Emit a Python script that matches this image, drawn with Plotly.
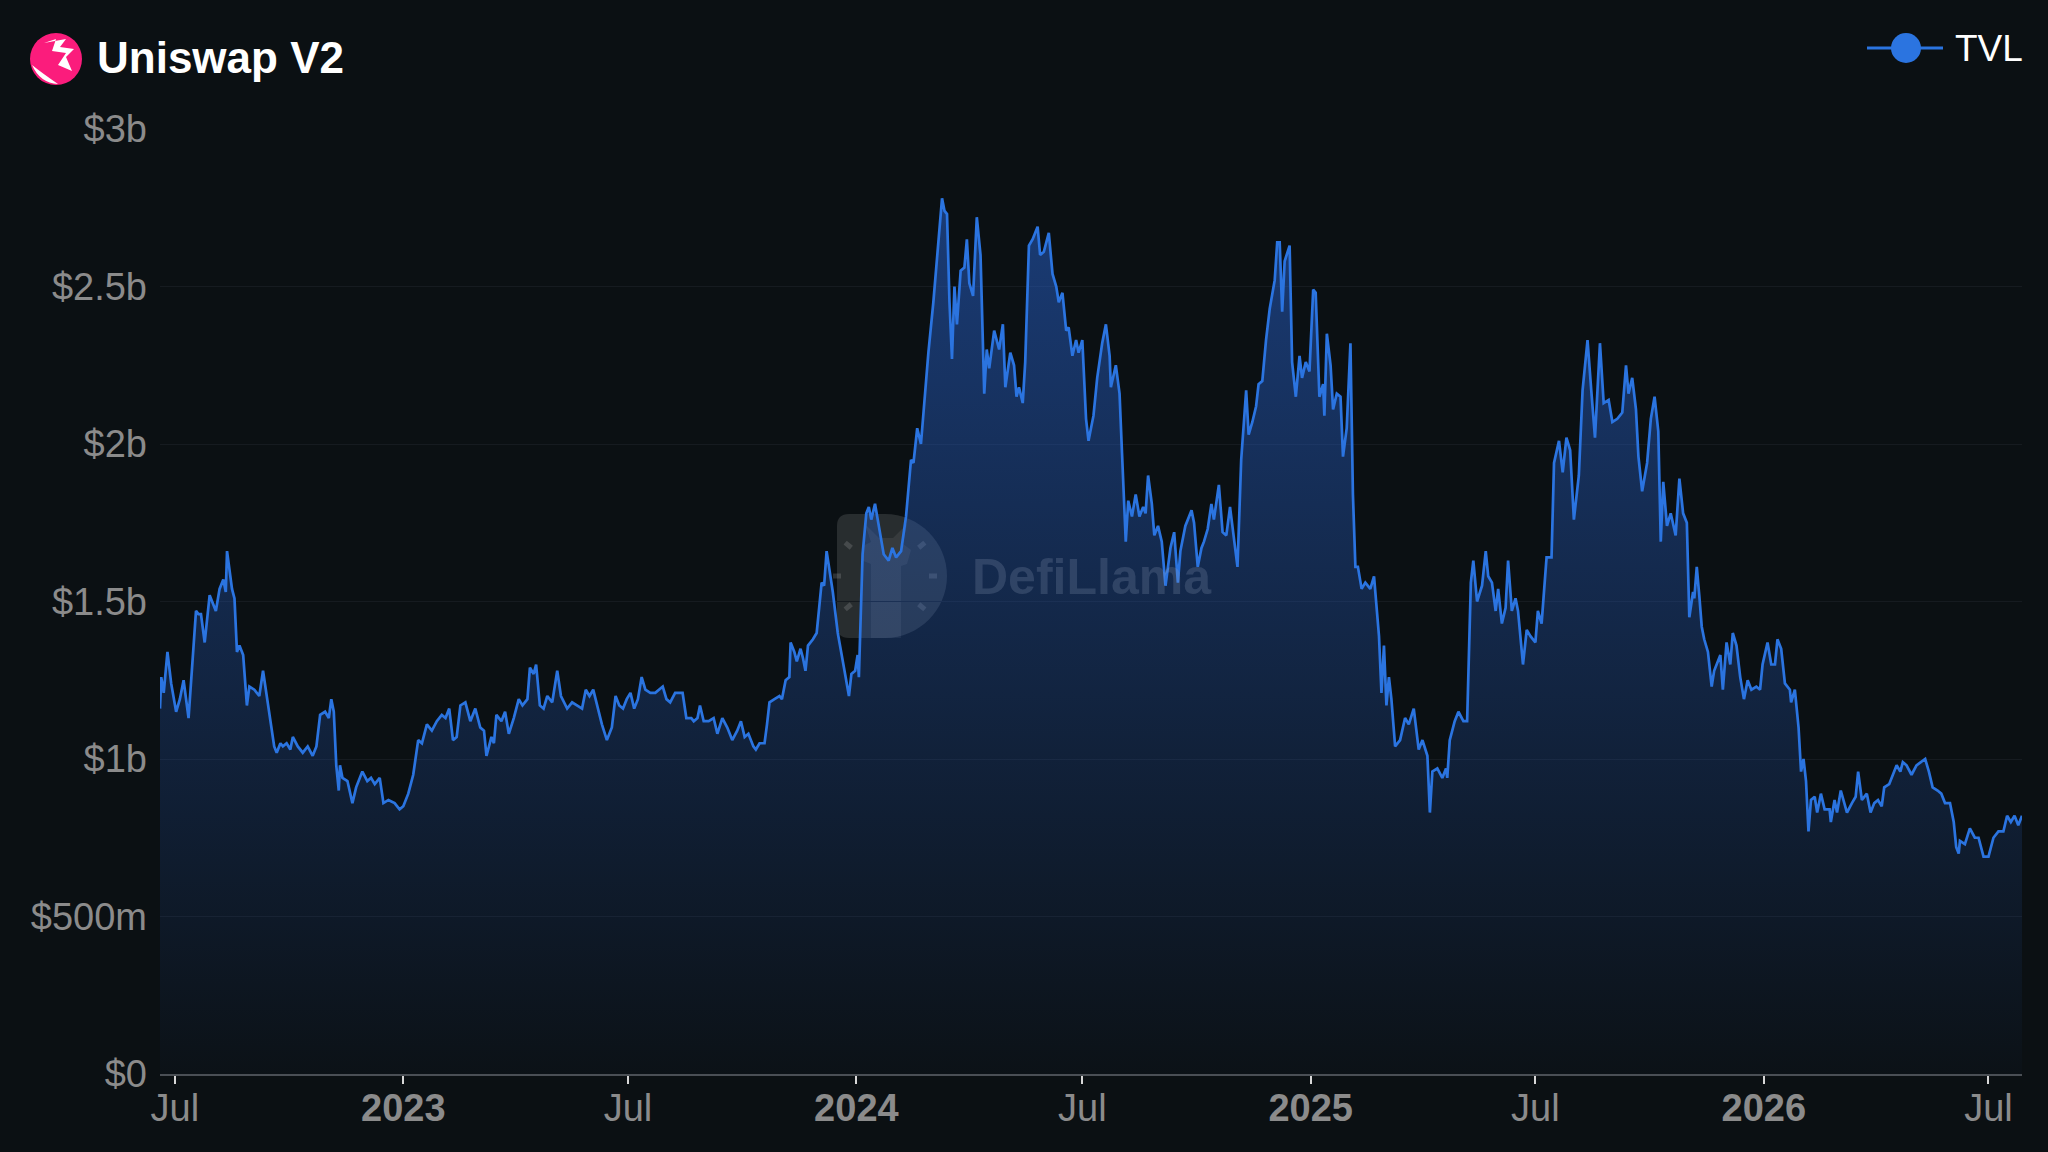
import math
import pandas as pd
import plotly.graph_objects as go

# TVL readings, days counted from 2022-07-01, values in $b
days = [
    -12, -11, -9, -6, -3, 1, 4, 7, 11, 15, 17, 19, 21, 24, 28, 33, 36, 39, 41, 42,
    46, 48, 50, 52, 55, 58, 60, 64, 68, 71, 75, 78, 80, 82, 85, 87, 90, 93, 95, 99,
    103, 107, 111, 114, 117, 121, 124, 126, 128, 130, 132, 133, 135, 139, 143, 146, 151, 155, 158, 161,
    165, 168, 172, 177, 181, 184, 188, 192, 196, 199, 203, 207, 211, 215, 218, 221, 224, 227, 230, 234,
    238, 242, 246, 249, 251, 255, 257, 259, 263, 266, 269, 273, 277, 280, 284, 286, 289, 291, 294, 297,
    300, 304, 308, 311, 316, 320, 324, 328, 331, 334, 337, 340, 344, 348, 352, 355, 358, 361, 364, 367,
    370, 373, 376, 379, 383, 387, 390, 393, 396, 399, 403, 409, 412, 416, 418, 421, 423, 426, 430, 434,
    437, 441, 445, 449, 453, 456, 459, 462, 466, 468, 471, 475, 477, 479, 483, 487, 489, 492, 495, 496,
    499, 501, 504, 506, 508, 510, 514, 517, 519, 521, 523, 525, 530, 534, 539, 543, 545, 548, 550, 551,
    554, 557, 559, 561, 564, 567, 571, 575, 578, 581, 585, 589, 591, 593, 595, 598, 601, 605, 607, 611,
    614, 616, 618, 620, 622, 624, 626, 628, 630, 633, 636, 638, 640, 643, 646, 649, 652, 654, 656, 660,
    664, 667, 669, 673, 676, 678, 680, 683, 685, 688, 691, 695, 697, 700, 704, 707, 710, 712, 715, 718,
    720, 723, 726, 728, 731, 734, 736, 740, 743, 747, 750, 753, 754, 758, 761, 763, 766, 768, 771, 774,
    777, 780, 782, 784, 787, 789, 792, 795, 798, 802, 805, 808, 810, 814, 819, 821, 824, 827, 829, 832,
    835, 837, 841, 844, 847, 850, 853, 856, 859, 863, 865, 868, 871, 873, 876, 879, 882, 886, 888, 890,
    892, 894, 898, 900, 903, 906, 908, 911, 914, 917, 919, 922, 925, 926, 928, 931, 933, 936, 939, 941,
    944, 947, 949, 951, 953, 956, 959, 963, 966, 970, 972, 974, 976, 978, 980, 983, 987, 991, 994, 998,
    1002, 1005, 1009, 1011, 1013, 1017, 1021, 1024, 1025, 1027, 1031, 1034, 1038, 1041, 1044, 1046, 1049, 1053, 1056, 1058,
    1061, 1064, 1066, 1069, 1072, 1074, 1077, 1080, 1082, 1086, 1089, 1092, 1096, 1098, 1101, 1105, 1109, 1111, 1115, 1118,
    1121, 1124, 1127, 1131, 1134, 1138, 1141, 1144, 1148, 1151, 1155, 1158, 1162, 1166, 1169, 1171, 1174, 1177, 1179, 1182,
    1186, 1189, 1192, 1195, 1197, 1199, 1202, 1205, 1209, 1212, 1215, 1218, 1220, 1223, 1224, 1226, 1228, 1230, 1232, 1235,
    1238, 1240, 1245, 1247, 1250, 1253, 1255, 1258, 1261, 1264, 1267, 1270, 1274, 1277, 1279, 1283, 1286, 1289, 1291, 1294,
    1297, 1301, 1302, 1305, 1308, 1310, 1312, 1314, 1316, 1318, 1321, 1323, 1326, 1329, 1333, 1334, 1337, 1339, 1342, 1347,
    1351, 1354, 1356, 1359, 1363, 1366, 1369, 1372, 1375, 1377, 1381, 1384, 1387, 1390, 1392, 1395, 1399, 1403, 1407, 1410,
    1413, 1416, 1420, 1423, 1426, 1430, 1433, 1435, 1437, 1438, 1442, 1446, 1450, 1453, 1457, 1461, 1465, 1469, 1473, 1476,
    1479, 1482, 1485, 1488,
]
tvl_b = [
    1.16, 1.26, 1.21, 1.34, 1.24, 1.15, 1.19, 1.25, 1.13, 1.34, 1.47, 1.46, 1.46, 1.37, 1.52, 1.47, 1.54, 1.57, 1.53, 1.66,
    1.54, 1.51, 1.34, 1.36, 1.33, 1.17, 1.23, 1.22, 1.20, 1.28, 1.17, 1.09, 1.04, 1.02, 1.05, 1.04, 1.05, 1.03, 1.07, 1.04,
    1.02, 1.04, 1.01, 1.04, 1.14, 1.15, 1.13, 1.19, 1.15, 0.98, 0.90, 0.98, 0.94, 0.93, 0.86, 0.91, 0.96, 0.93, 0.94, 0.92,
    0.94, 0.86, 0.87, 0.86, 0.84, 0.85, 0.89, 0.95, 1.06, 1.05, 1.11, 1.09, 1.12, 1.14, 1.13, 1.16, 1.06, 1.07, 1.17, 1.18,
    1.12, 1.16, 1.10, 1.09, 1.01, 1.07, 1.05, 1.14, 1.12, 1.15, 1.08, 1.13, 1.19, 1.17, 1.19, 1.29, 1.27, 1.30, 1.17, 1.16,
    1.20, 1.18, 1.28, 1.20, 1.16, 1.18, 1.17, 1.16, 1.22, 1.20, 1.22, 1.17, 1.11, 1.06, 1.10, 1.20, 1.17, 1.16, 1.19, 1.21,
    1.16, 1.19, 1.26, 1.22, 1.21, 1.21, 1.22, 1.23, 1.19, 1.18, 1.21, 1.21, 1.13, 1.13, 1.12, 1.13, 1.17, 1.12, 1.12, 1.13,
    1.08, 1.13, 1.10, 1.06, 1.09, 1.12, 1.07, 1.08, 1.04, 1.03, 1.05, 1.05, 1.11, 1.18, 1.19, 1.20, 1.19, 1.25, 1.26, 1.37,
    1.34, 1.31, 1.35, 1.32, 1.28, 1.36, 1.38, 1.40, 1.48, 1.56, 1.55, 1.66, 1.53, 1.40, 1.29, 1.20, 1.27, 1.28, 1.33, 1.26,
    1.65, 1.78, 1.80, 1.76, 1.81, 1.74, 1.65, 1.63, 1.67, 1.64, 1.66, 1.77, 1.85, 1.95, 1.94, 2.05, 2.00, 2.19, 2.29, 2.45,
    2.59, 2.67, 2.78, 2.74, 2.73, 2.45, 2.27, 2.50, 2.38, 2.55, 2.56, 2.65, 2.51, 2.47, 2.72, 2.60, 2.16, 2.30, 2.24, 2.36,
    2.30, 2.38, 2.18, 2.29, 2.25, 2.15, 2.18, 2.13, 2.26, 2.63, 2.65, 2.69, 2.60, 2.61, 2.67, 2.54, 2.50, 2.45, 2.48, 2.36,
    2.37, 2.28, 2.33, 2.29, 2.33, 2.08, 2.01, 2.09, 2.21, 2.32, 2.38, 2.28, 2.18, 2.25, 2.16, 1.97, 1.69, 1.82, 1.77, 1.84,
    1.77, 1.80, 1.78, 1.90, 1.81, 1.71, 1.74, 1.69, 1.55, 1.67, 1.72, 1.56, 1.66, 1.74, 1.79, 1.75, 1.61, 1.67, 1.69, 1.73,
    1.81, 1.76, 1.87, 1.72, 1.71, 1.80, 1.71, 1.61, 1.95, 2.17, 2.03, 2.07, 2.12, 2.19, 2.20, 2.33, 2.43, 2.52, 2.64, 2.64,
    2.42, 2.58, 2.63, 2.26, 2.15, 2.28, 2.21, 2.26, 2.23, 2.49, 2.48, 2.15, 2.19, 2.09, 2.35, 2.25, 2.11, 2.16, 2.15, 1.96,
    2.05, 2.32, 1.84, 1.61, 1.61, 1.54, 1.56, 1.54, 1.58, 1.39, 1.21, 1.36, 1.17, 1.26, 1.19, 1.04, 1.06, 1.13, 1.11, 1.16,
    1.03, 1.06, 1.01, 0.83, 0.96, 0.97, 0.94, 0.97, 0.94, 1.06, 1.12, 1.15, 1.12, 1.12, 1.56, 1.63, 1.50, 1.55, 1.66, 1.58,
    1.56, 1.47, 1.54, 1.43, 1.48, 1.63, 1.47, 1.51, 1.47, 1.30, 1.41, 1.39, 1.37, 1.47, 1.43, 1.64, 1.64, 1.94, 2.01, 1.91,
    2.02, 1.98, 1.76, 1.90, 2.17, 2.33, 2.17, 2.02, 2.32, 2.13, 2.14, 2.07, 2.08, 2.10, 2.25, 2.16, 2.21, 2.11, 1.96, 1.85,
    1.94, 2.08, 2.15, 2.04, 1.69, 1.88, 1.74, 1.78, 1.71, 1.89, 1.78, 1.75, 1.45, 1.53, 1.51, 1.61, 1.52, 1.42, 1.38, 1.34,
    1.23, 1.28, 1.33, 1.22, 1.37, 1.30, 1.40, 1.36, 1.26, 1.19, 1.25, 1.22, 1.23, 1.22, 1.30, 1.37, 1.30, 1.30, 1.38, 1.35,
    1.24, 1.22, 1.18, 1.22, 1.10, 0.96, 1.00, 0.93, 0.77, 0.87, 0.88, 0.83, 0.89, 0.84, 0.84, 0.80, 0.87, 0.83, 0.90, 0.83,
    0.86, 0.88, 0.96, 0.87, 0.89, 0.83, 0.86, 0.87, 0.85, 0.91, 0.92, 0.95, 0.98, 0.96, 0.99, 0.98, 0.95, 0.98, 0.99, 1.00,
    0.96, 0.91, 0.90, 0.89, 0.86, 0.86, 0.80, 0.72, 0.70, 0.74, 0.73, 0.78, 0.75, 0.75, 0.69, 0.69, 0.75, 0.77, 0.77, 0.82,
    0.80, 0.82, 0.79, 0.82,
]

y_ticks = [0, 0.5, 1, 1.5, 2, 2.5, 3]
y_labels = ["$0", "$500m", "$1b", "$1.5b", "$2b", "$2.5b", "$3b"]
x_ticks = ["2022-07-01", "2023-01-01", "2023-07-01", "2024-01-01", "2024-07-01",
           "2025-01-01", "2025-07-01", "2026-01-01", "2026-07-01"]
x_labels = ["Jul", "<b>2023</b>", "Jul", "<b>2024</b>", "Jul",
            "<b>2025</b>", "Jul", "<b>2026</b>", "Jul"]

dates = pd.Timestamp("2022-07-01") + pd.to_timedelta(days, unit="D")

W, H = 2048, 1152
L, R, T, B = 160, 26, 129, 78
BG = "#0b1013"
BLUE = "#2b74e0"
FONT = "Liberation Sans"
TICK_FONT = dict(family=FONT, size=38, color="#8b8b8b")


def px(x):
    return (x - L) / (W - L - R)


def py(y):
    return (H - B - y) / (H - T - B)


def pixel_shape(cx, cy, **kw):
    # shape drawn in pixels around a figure-pixel anchor
    return dict(xref="paper", yref="paper", xsizemode="pixel", ysizemode="pixel",
                xanchor=px(cx), yanchor=py(cy), **kw)


fig = go.Figure()
fig.add_trace(go.Scatter(
    x=dates, y=tvl_b, mode="lines",
    line=dict(color=BLUE, width=2.7),
    fill="tozeroy",
    fillgradient=dict(type="vertical", start=0, stop=3,
                      colorscale=[[0, "rgba(40,100,210,0.02)"], [1, "rgba(40,100,210,0.56)"]]),
    showlegend=False, hoverinfo="skip",
))

# DefiLlama watermark: "D" badge, llama and clock marks
wm = "rgba(255,255,255,0.12)"
shapes = [
    pixel_shape(885, 576, type="path", layer="below", fillcolor=wm, line=dict(width=0),
                path="M -36,-62 L 0,-62 C 34,-62 62,-34 62,0 C 62,34 34,62 0,62 "
                     "L -36,62 Q -48,62 -48,50 L -48,-50 Q -48,-62 -36,-62 Z"),
    pixel_shape(885, 576, type="path", layer="below", fillcolor="rgba(255,255,255,0.07)",
                line=dict(width=0),
                path="M -14,-62 L -14,12 L -24,16 L -22,30 L -14,34 L -20,52 L -6,38 "
                     "L 8,38 L 22,52 L 18,32 L 26,26 L 22,12 L 16,10 L 16,-62 Z"),
]
for ang in [0, 40, 140, 180, 220, 320]:
    a = math.radians(ang)
    shapes.append(pixel_shape(885, 576, type="line", layer="below",
                              x0=44 * math.cos(a), y0=44 * math.sin(a),
                              x1=52 * math.cos(a), y1=52 * math.sin(a),
                              line=dict(color="rgba(255,255,255,0.14)", width=5)))

shapes += [
    # protocol logo
    pixel_shape(56, 59, type="circle", x0=-26, x1=26, y0=-26, y1=26,
                fillcolor="#fb1c7c", line=dict(width=0)),
    pixel_shape(56, 59, type="path", fillcolor="white", line=dict(width=0),
                path="M -24,-6 Q -16,-24 2,-25 Q -14,-14 -24,-6 Z "
                     "M -12,16 L 0,20 L -4,8 L 10,6 L 2,-6 L 16,-12 L 10,2 L 18,10 L 4,12 L 10,20 Z"),
    # legend
    dict(type="line", xref="paper", yref="paper", x0=px(1867), x1=px(1943), y0=py(48), y1=py(48),
         line=dict(color=BLUE, width=3)),
    pixel_shape(1906, 48, type="circle", x0=-15, x1=15, y0=-15, y1=15,
                fillcolor=BLUE, line=dict(width=0)),
]

annotations = [
    dict(text="<b>Uniswap V2</b>", xref="paper", yref="paper", x=px(95), y=py(58),
         xanchor="left", yanchor="middle", showarrow=False,
         font=dict(family=FONT, size=44, color="white")),
    dict(text="TVL", xref="paper", yref="paper", x=px(1953), y=py(48),
         xanchor="left", yanchor="middle", showarrow=False,
         font=dict(family=FONT, size=37, color="white")),
    dict(text="<b>DefiLlama</b>", xref="paper", yref="paper", x=px(1092), y=py(577),
         xanchor="center", yanchor="middle", showarrow=False,
         font=dict(family=FONT, size=50, color="rgba(150,165,190,0.22)")),
]

fig.update_layout(
    width=W, height=H, autosize=False,
    margin=dict(l=L, r=R, t=T, b=B),
    paper_bgcolor=BG, plot_bgcolor=BG,
    shapes=shapes, annotations=annotations,
    showlegend=False,
    xaxis=dict(type="date", range=[dates[0], dates[-1]],
               tickvals=x_ticks, ticktext=x_labels,
               ticks="outside", ticklen=8, tickwidth=2, tickcolor="#d8d8d8",
               ticklabelstandoff=-9,
               showline=True, linecolor="#4a4f55", linewidth=2,
               showgrid=False, zeroline=False,
               tickfont=TICK_FONT),
    yaxis=dict(range=[0, 3], tickvals=y_ticks, ticktext=y_labels,
               showgrid=True, gridcolor="#161b20", gridwidth=1,
               zeroline=False, showline=False, ticks="",
               ticklabelstandoff=12,
               tickfont=TICK_FONT),
)

fig.write_html("out.html", config={"displayModeBar": False},
               post_script="document.body.style.margin='0';document.body.style.overflow='hidden';")
